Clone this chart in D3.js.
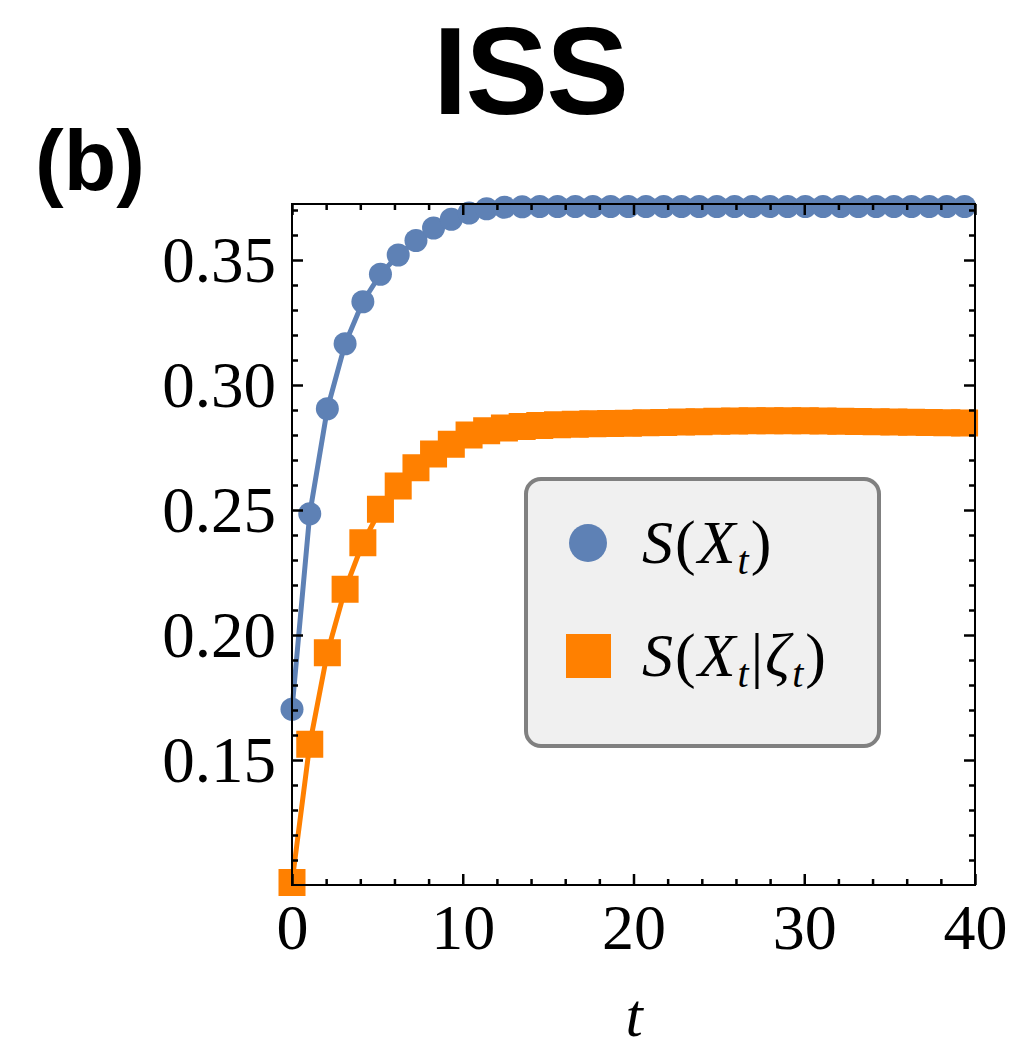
<!DOCTYPE html>
<html>
<head>
<meta charset="utf-8">
<script src="https://cdn.jsdelivr.net/npm/d3@7.9.0/dist/d3.min.js"></script>
<style>
  html, body { margin: 0; padding: 0; background: #fff; }
  svg { display: block; }
</style>
</head>
<body>
<svg id="chart" width="1015" height="1051"></svg>
<script>
// time points (markers are spaced a bit more than 1 unit)
const times = [0, 1.04, 2.07, 3.11, 4.15, 5.18, 6.22, 7.26, 8.29, 9.33, 10.37, 11.40, 12.44,
  13.48, 14.51, 15.55, 16.59, 17.62, 18.66, 19.70, 20.73, 21.77, 22.81, 23.84, 24.88, 25.92,
  26.95, 27.99, 29.03, 30.06, 31.10, 32.14, 33.17, 34.21, 35.25, 36.28, 37.32, 38.35, 39.39];

// S(X_t)
const entropyX = [0.1703, 0.2485, 0.2905, 0.3165, 0.3333, 0.3443, 0.3520, 0.3578, 0.3628,
  0.3663, 0.3688, 0.3705, 0.3711, 0.3713, 0.3714, 0.3714, 0.3714, 0.3714, 0.3714, 0.3714,
  0.3714, 0.3714, 0.3714, 0.3714, 0.3714, 0.3714, 0.3714, 0.3714, 0.3714, 0.3714, 0.3714,
  0.3714, 0.3714, 0.3714, 0.3714, 0.3714, 0.3714, 0.3714, 0.3714];

// S(X_t | zeta_t)
const entropyXz = [0.1010, 0.1563, 0.1929, 0.2183, 0.2369, 0.2503, 0.2596, 0.2669, 0.2724,
  0.2763, 0.2800, 0.2817, 0.2828, 0.2834, 0.2838, 0.2841, 0.2843, 0.2845, 0.2846, 0.2847,
  0.2849, 0.2850, 0.2852, 0.2853, 0.2855, 0.2856, 0.2857, 0.2857, 0.2857, 0.2857, 0.2856,
  0.2855, 0.2854, 0.2853, 0.2852, 0.2851, 0.2850, 0.2849, 0.2848];

const xMajor = [0, 10, 20, 30, 40];
const yMajor = [0.15, 0.20, 0.25, 0.30, 0.35];
const yLabels = ['0.15', '0.20', '0.25', '0.30', '0.35'];

const blue = '#5e81b5';
const orange = '#ff8000';

const svg = d3.select('#chart');
const plotL = 292, plotR = 975, plotT = 204, plotB = 885;

const x = d3.scaleLinear().domain([0, 40]).range([plotL, plotR]);
const y = d3.scaleLinear().domain([0.1, 0.3724]).range([plotB, plotT]);

// title and panel letter
svg.append('text')
  .attr('x', 530).attr('y', 114)
  .attr('text-anchor', 'middle')
  .attr('font-family', 'Liberation Sans, Arial, sans-serif')
  .attr('font-weight', 'bold')
  .attr('font-size', 124)
  .attr('letter-spacing', -2)
  .text('ISS');

svg.append('text')
  .attr('x', 35).attr('y', 190)
  .attr('font-family', 'Liberation Sans, Arial, sans-serif')
  .attr('font-weight', 'bold')
  .attr('font-size', 86)
  .text('(b)');

// lines
const line = d3.line().x((d, i) => x(times[i])).y(d => y(d));

svg.append('path').datum(entropyX)
  .attr('d', line).attr('fill', 'none')
  .attr('stroke', blue).attr('stroke-width', 5);

svg.append('path').datum(entropyXz)
  .attr('d', line).attr('fill', 'none')
  .attr('stroke', orange).attr('stroke-width', 5);

// markers
svg.append('g').selectAll('circle').data(entropyX).join('circle')
  .attr('cx', (d, i) => x(times[i]))
  .attr('cy', d => y(d))
  .attr('r', 11.5)
  .attr('fill', blue);

const sq = 27;
svg.append('g').selectAll('rect').data(entropyXz).join('rect')
  .attr('x', (d, i) => x(times[i]) - sq / 2)
  .attr('y', d => y(d) - sq / 2)
  .attr('width', sq).attr('height', sq)
  .attr('fill', orange);

// frame with inward ticks on all sides
const xMinor = d3.range(0, 41, 2).filter(v => v % 10 !== 0);
const yMinor = d3.range(10, 38).map(v => v / 100).filter(v => Math.round(v * 100) % 5 !== 0);

function tickAxis(g, axis) {
  g.call(axis);
  g.select('.domain').remove();
  g.selectAll('line').attr('stroke', '#000').attr('stroke-width', 2.5);
}

const serif = 'Liberation Serif, Times New Roman, serif';

// bottom
const gb = svg.append('g').attr('transform', `translate(0,${plotB})`);
tickAxis(gb, d3.axisBottom(x).tickValues(xMajor).tickSize(-11).tickFormat(d3.format('d')));
gb.selectAll('text')
  .attr('y', 64).attr('dy', 0)
  .attr('font-family', serif).attr('font-size', 64).attr('fill', '#000');
const gbm = svg.append('g').attr('transform', `translate(0,${plotB})`);
tickAxis(gbm, d3.axisBottom(x).tickValues(xMinor).tickSize(-6).tickFormat(''));

// top
const gt = svg.append('g').attr('transform', `translate(0,${plotT})`);
tickAxis(gt, d3.axisTop(x).tickValues(xMajor).tickSize(-11).tickFormat(''));
const gtm = svg.append('g').attr('transform', `translate(0,${plotT})`);
tickAxis(gtm, d3.axisTop(x).tickValues(xMinor).tickSize(-6).tickFormat(''));

// left
const gl = svg.append('g').attr('transform', `translate(${plotL},0)`);
tickAxis(gl, d3.axisLeft(y).tickValues(yMajor).tickSize(-11).tickFormat((d, i) => yLabels[i]));
gl.selectAll('text')
  .attr('x', -16).attr('dy', '0.33em')
  .attr('font-family', serif).attr('font-size', 65).attr('fill', '#000');
const glm = svg.append('g').attr('transform', `translate(${plotL},0)`);
tickAxis(glm, d3.axisLeft(y).tickValues(yMinor).tickSize(-6).tickFormat(''));

// right
const gr = svg.append('g').attr('transform', `translate(${plotR},0)`);
tickAxis(gr, d3.axisRight(y).tickValues(yMajor).tickSize(-11).tickFormat(''));
const grm = svg.append('g').attr('transform', `translate(${plotR},0)`);
tickAxis(grm, d3.axisRight(y).tickValues(yMinor).tickSize(-6).tickFormat(''));

svg.append('rect')
  .attr('x', plotL).attr('y', plotT)
  .attr('width', plotR - plotL).attr('height', plotB - plotT)
  .attr('fill', 'none').attr('stroke', '#000').attr('stroke-width', 2);

// x axis title
svg.append('text')
  .attr('x', 634).attr('y', 1036)
  .attr('text-anchor', 'middle')
  .attr('font-family', serif).attr('font-style', 'italic')
  .attr('font-size', 62)
  .text('t');

// legend
const lg = svg.append('g');
lg.append('rect')
  .attr('x', 526).attr('y', 479)
  .attr('width', 353).attr('height', 267)
  .attr('rx', 15).attr('ry', 15)
  .attr('fill', '#f0f0f0').attr('stroke', '#808080').attr('stroke-width', 4);

lg.append('circle').attr('cx', 588).attr('cy', 543).attr('r', 19).attr('fill', blue);
lg.append('rect').attr('x', 566).attr('y', 634).attr('width', 45).attr('height', 44).attr('fill', orange);

function legendLabel(yPos, parts) {
  const t = lg.append('text')
    .attr('x', 642).attr('y', yPos)
    .attr('font-family', serif).attr('font-size', 62)
    .attr('letter-spacing', 2);
  parts.forEach(p => {
    const s = t.append('tspan').text(p.text);
    if (p.italic) s.attr('font-style', 'italic');
    if (p.sub) s.attr('font-size', 40).attr('dy', 11);
    if (p.up) s.attr('dy', -11);
  });
}

legendLabel(563, [
  { text: 'S', italic: true }, { text: '(' }, { text: 'X', italic: true },
  { text: 't', italic: true, sub: true }, { text: ')', up: true }
]);
legendLabel(676, [
  { text: 'S', italic: true }, { text: '(' }, { text: 'X', italic: true },
  { text: 't', italic: true, sub: true }, { text: '|', up: true }, { text: 'ζ', italic: true },
  { text: 't', italic: true, sub: true }, { text: ')', up: true }
]);
</script>
</body>
</html>
